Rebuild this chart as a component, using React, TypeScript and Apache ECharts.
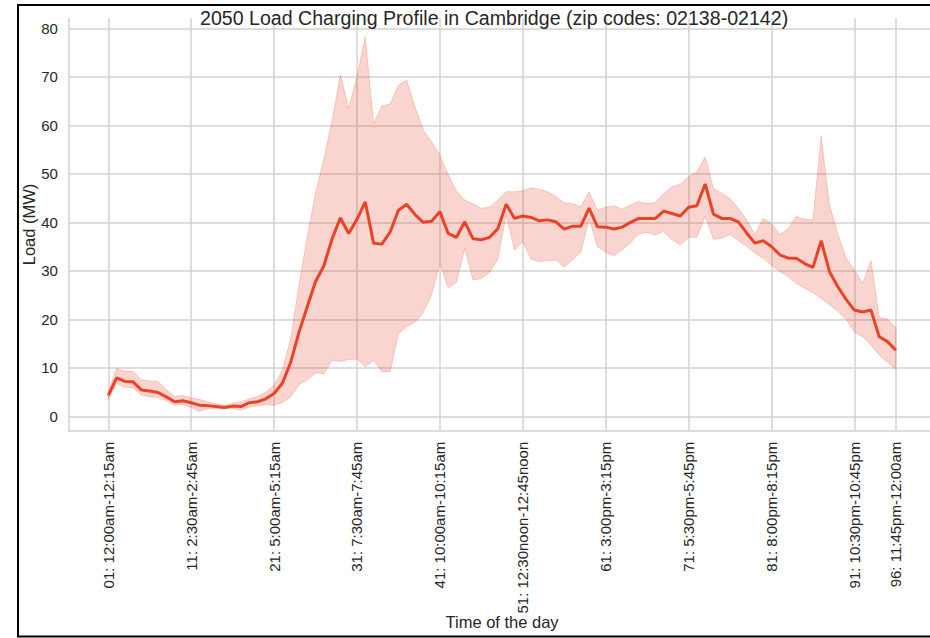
import React, { useEffect, useRef } from "react";
import * as echarts from "echarts";

const TITLE = "2050 Load Charging Profile in Cambridge (zip codes: 02138-02142)";
const X_NAME = "Time of the day";
const Y_NAME = "Load (MW)";

// 15-minute slots of the day, 1..96
const SLOTS: number[] = [
  1, 2, 3, 4, 5, 6, 7, 8, 9, 10, 11, 12, 13, 14, 15, 16, 17, 18, 19, 20,
  21, 22, 23, 24, 25, 26, 27, 28, 29, 30, 31, 32, 33, 34, 35, 36, 37, 38, 39, 40,
  41, 42, 43, 44, 45, 46, 47, 48, 49, 50, 51, 52, 53, 54, 55, 56, 57, 58, 59, 60,
  61, 62, 63, 64, 65, 66, 67, 68, 69, 70, 71, 72, 73, 74, 75, 76, 77, 78, 79, 80,
  81, 82, 83, 84, 85, 86, 87, 88, 89, 90, 91, 92, 93, 94, 95, 96,
];

const MEAN_LOAD: number[] = [
  4.3, 7.9, 7.2, 7.1, 5.4, 5.2, 4.9, 4.0, 3.0, 3.2,
  2.8, 2.3, 2.2, 2.0, 1.8, 2.1, 2.0, 2.8, 3.0, 3.6,
  4.7, 6.8, 11.1, 17.3, 22.6, 27.8, 31.0, 36.6, 40.9, 37.7,
  40.6, 44.2, 35.7, 35.5, 38.0, 42.5, 43.7, 41.6, 40.0, 40.2,
  42.2, 37.7, 36.9, 40.1, 36.6, 36.4, 36.9, 38.7, 43.7, 40.8,
  41.3, 41.0, 40.3, 40.5, 40.1, 38.6, 39.2, 39.2, 42.9, 39.1,
  39.0, 38.6, 39.0, 40.0, 40.8, 40.8, 40.8, 42.3, 41.8, 41.3,
  43.1, 43.4, 47.9, 41.7, 40.8, 40.8, 40.1, 37.8, 35.7, 36.2,
  35.0, 33.3, 32.6, 32.6, 31.5, 30.7, 36.2, 29.8, 26.7, 24.1,
  21.9, 21.5, 21.9, 16.4, 15.4, 13.6,
];

const UPPER_LOAD: number[] = [
  5.0, 9.9, 9.3, 9.3, 7.5, 7.3, 7.2, 5.5, 4.1, 4.3,
  3.8, 3.5, 3.0, 2.6, 2.2, 2.7, 3.0, 3.6, 4.0, 5.0,
  6.4, 9.5, 16.0, 27.0, 37.0, 46.0, 53.0, 61.0, 70.5, 63.5,
  70.0, 78.3, 60.3, 64.0, 64.4, 68.3, 69.3, 63.8, 59.0, 56.6,
  53.9, 49.8, 46.5, 44.6, 43.8, 42.9, 43.1, 44.6, 46.3, 46.3,
  46.5, 47.1, 46.8, 46.3, 45.3, 44.0, 43.9, 43.2, 46.3, 42.5,
  43.1, 43.4, 42.7, 43.6, 44.3, 43.8, 44.1, 46.0, 47.3, 47.9,
  49.4, 50.4, 53.5, 47.0, 46.0, 44.9, 42.9, 40.5, 37.5, 40.8,
  39.8, 37.5, 38.7, 41.2, 40.6, 40.5, 57.7, 43.6, 37.7, 32.6,
  30.2, 27.4, 32.1, 20.4, 20.0, 18.3,
];

const LOWER_LOAD: number[] = [
  3.5, 6.8, 6.0, 5.8, 4.4, 4.0, 3.8, 3.2, 2.3, 2.5,
  1.8, 1.0, 1.6, 1.6, 1.5, 1.6, 1.3, 1.9, 2.1, 2.4,
  2.3, 2.8, 4.0, 6.5, 7.5, 9.0, 8.7, 11.6, 11.3, 11.7,
  11.8, 10.2, 11.5, 9.2, 9.2, 17.0, 18.5, 19.4, 21.4, 25.0,
  31.5, 26.5, 27.6, 34.6, 28.1, 28.4, 29.7, 32.4, 41.5, 34.3,
  36.0, 32.4, 31.9, 32.1, 32.2, 30.8, 32.3, 33.8, 40.7, 35.0,
  33.8, 33.1, 34.3, 35.8, 37.6, 37.9, 37.4, 38.1, 36.4, 35.3,
  36.9, 36.9, 41.3, 36.5, 36.7, 37.5, 36.2, 35.1, 33.6, 32.6,
  31.2, 29.8, 28.8, 27.4, 26.4, 25.5, 24.3, 23.0, 21.6, 20.0,
  17.4, 16.4, 14.7, 12.6, 11.1, 9.7,
];

const X_TICKS: number[] = [1, 11, 21, 31, 41, 51, 61, 71, 81, 91, 96];
const X_TICK_LABELS: string[] = [
  "01: 12:00am-12:15am",
  "11: 2:30am-2:45am",
  "21: 5:00am-5:15am",
  "31: 7:30am-7:45am",
  "41: 10:00am-10:15am",
  "51: 12:30noon-12:45noon",
  "61: 3:00pm-3:15pm",
  "71: 5:30pm-5:45pm",
  "81: 8:00pm-8:15pm",
  "91: 10:30pm-10:45pm",
  "96: 11:45pm-12:00am",
];
const Y_TICKS: number[] = [0, 10, 20, 30, 40, 50, 60, 70, 80];

const FONT = "'Liberation Sans', Arial, sans-serif";
const TEXT = "#262626";
const GRID = "#d2d2d2";
const LINE_COLOR = "#ea4226";
const BAND_COLOR = "rgba(234,66,38,0.22)";

export default function App() {
  const ref = useRef<HTMLDivElement>(null);

  useEffect(() => {
    if (!ref.current) return;
    const chart = echarts.init(ref.current, undefined, { renderer: "svg" });

    const option: any = {
      animation: false,
      backgroundColor: "#ffffff",
      title: {
        text: TITLE,
        left: 200,
        top: 8,
        padding: 0,
        textStyle: { fontFamily: FONT, fontSize: 19.6, fontWeight: "normal", color: TEXT },
      },
      grid: {
        left: 68.9,
        right: -5.2,
        top: 18.3,
        bottom: 207.3,
        containLabel: false,
        outerBoundsMode: "none",
      },
      xAxis: {
        type: "value",
        min: -3.75,
        max: 100.75,
        name: X_NAME,
        nameLocation: "middle",
        nameGap: 183,
        nameMoveOverlap: false,
        nameTextStyle: { fontFamily: FONT, fontSize: 16.5, color: TEXT },
        axisLine: { show: true, onZero: false, lineStyle: { color: GRID, width: 1.5 } },
        axisTick: { show: false, customValues: X_TICKS },
        axisLabel: {
          customValues: X_TICKS,
          rotate: 90,
          margin: 11,
          fontFamily: FONT,
          fontSize: 15,
          color: TEXT,
          formatter: (v: number) => {
            const k = X_TICKS.indexOf(Math.round(v));
            return k >= 0 ? X_TICK_LABELS[k] : "";
          },
        },
        splitLine: { show: true, lineStyle: { color: GRID, width: 1.5 } },
      },
      yAxis: {
        type: "value",
        min: -2.97,
        max: 82.06,
        name: Y_NAME,
        nameLocation: "middle",
        nameGap: 31,
        nameMoveOverlap: false,
        nameTextStyle: { fontFamily: FONT, fontSize: 16.5, color: TEXT },
        axisLine: { show: true, onZero: false, lineStyle: { color: GRID, width: 1.5 } },
        axisTick: { show: false, customValues: Y_TICKS },
        axisLabel: {
          customValues: Y_TICKS,
          margin: 11,
          fontFamily: FONT,
          fontSize: 15,
          color: TEXT,
        },
        splitLine: { show: true, lineStyle: { color: GRID, width: 1.5 } },
      },
      series: [
        {
          type: "custom",
          silent: true,
          z: 2,
          data: SLOTS.map((s, i) => [s, LOWER_LOAD[i], UPPER_LOAD[i]]),
          encode: { x: 0, y: [1, 2] },
          renderItem: (params: any, api: any) => {
            if (params.dataIndex !== 0) return null;
            const top = SLOTS.map((s, i) => api.coord([s, UPPER_LOAD[i]]));
            const bottom = SLOTS.map((s, i) => api.coord([s, LOWER_LOAD[i]])).reverse();
            return {
              type: "polygon",
              shape: { points: top.concat(bottom) },
              style: { fill: BAND_COLOR, stroke: BAND_COLOR, lineWidth: 1 },
            };
          },
        },
        {
          type: "line",
          z: 3,
          data: SLOTS.map((s, i) => [s, MEAN_LOAD[i]]),
          symbol: "none",
          showSymbol: false,
          lineStyle: { color: LINE_COLOR, width: 3 },
        },
      ],
      graphic: [
        {
          type: "rect",
          silent: true,
          z: 100,
          shape: { x: 18, y: 5, width: 940, height: 631.5 },
          style: { fill: "none", stroke: "#000000", lineWidth: 2 },
        },
      ],
    };

    chart.setOption(option);
    return () => chart.dispose();
  }, []);

  return (
    <div
      ref={ref}
      style={{ position: "absolute", left: 0, top: 0, width: 930, height: 638 }}
    />
  );
}
